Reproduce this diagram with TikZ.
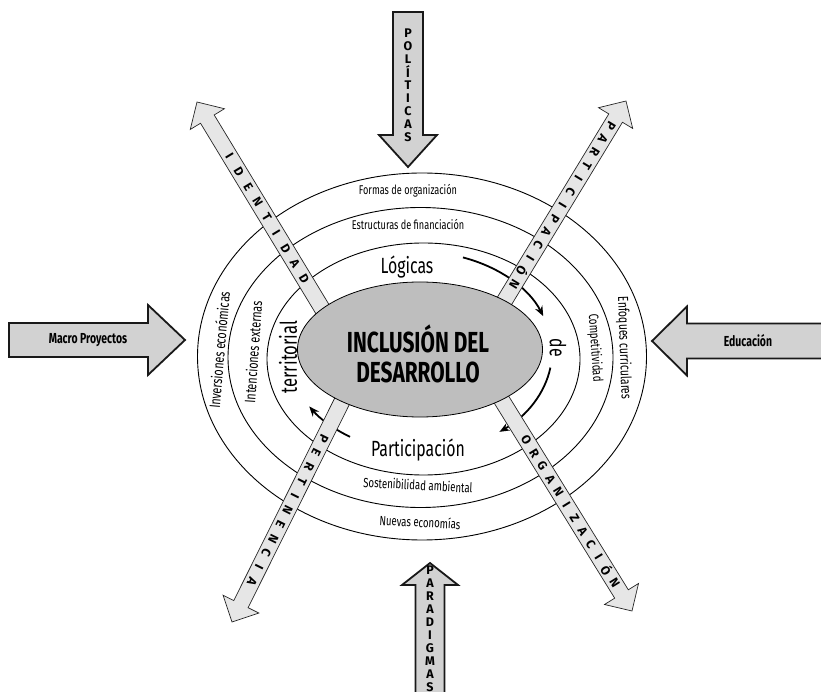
\documentclass[tikz,border=0pt]{standalone}
\usepackage{fontspec}
\setmainfont{Fira Sans}[FakeStretch=0.72]
\newfontfamily\bandfont{Fira Sans}
\usepackage{tikz}
\usetikzlibrary{arrows.meta, positioning, calc}

\definecolor{colCore}{RGB}{190,190,190}
\definecolor{colBand}{RGB}{230,230,230}
\definecolor{colBig}{RGB}{210,210,210}

\newcommand{\tsize}[1]{\fontsize{#1}{#1}\selectfont}

\begin{document}
\begin{tikzpicture}[x=1pt, y=1pt,
    every node/.style={inner sep=0pt},
    ring/.style={draw=black, line width=0.9pt},
    band/.style={draw=black!85, fill=colBand, line width=0.7pt, line join=miter},
    bigarrow/.style={draw=black!90, fill=colBig, line width=1.8pt, line join=miter},
    turnarrow/.style={line width=1.8pt, -{Stealth[length=10pt, width=8pt]}},
    bandletter/.style={font=\bandfont\bfseries\tsize{12.5}},
    ringtext/.style={font=\tsize{12.7}},
    bigtext/.style={font=\tsize{22}}]

    \useasboundingbox (0,0) rectangle (821,691);

    % --- Anillos ---
    \draw[ring] (422,334.5) ellipse [x radius=224.5pt, y radius=183.5pt];
    \draw[ring] (420.5,333.5) ellipse [x radius=192.5pt, y radius=150pt];
    \draw[ring] (423.5,332) ellipse [x radius=156.5pt, y radius=116pt];

    % --- Flechas de giro ---
    \begin{scope}[shift={(420,339)}]
        \draw[turnarrow] (71:132pt and 100pt) arc [start angle=71, end angle=21, x radius=132pt, y radius=100pt];
        \draw[turnarrow] (-9:132pt and 100pt) arc [start angle=-9, end angle=-53, x radius=132pt, y radius=100pt];
        \draw[turnarrow] (-122:132pt and 100pt) arc [start angle=-122, end angle=-147, x radius=132pt, y radius=100pt];
    \end{scope}

    % --- Bandas diagonales ---
    \foreach \tx/\ty/\ang/\len in {197/589/121.2/290, 626/590/58.7/290, 232/69/243.5/300, 632/80/-58.3/300} {
        \begin{scope}[shift={(\tx,\ty)}, rotate=\ang]
            \draw[band] (-\len,-8) -- (-20,-8) -- (-20,-20) -- (0,0) -- (-20,20) -- (-20,8) -- (-\len,8) -- cycle;
        \end{scope}
    }
    % Identidad
    \begin{scope}[shift={(197,589)}, rotate=121.2]
        \foreach \ch [count=\i from 0] in {I,D,E,N,T,I,D,A,D}
            \node[bandletter, rotate=-58.8] (idn\i) at (-63-18*\i, 0) {\ch};
    \end{scope}
    % Participacion
    \begin{scope}[shift={(626,590)}, rotate=58.7]
        \foreach \ch [count=\i from 0] in {P,A,R,T,I,C,I,P,A,C,I,Ó,N}
            \node[bandletter, rotate=-121.3] (ptc\i) at (-29-15.5*\i, 0) {\ch};
    \end{scope}
    % Pertinencia
    \begin{scope}[shift={(232,69)}, rotate=243.5]
        \foreach \ch [count=\i from 0] in {P,E,R,T,I,N,E,N,C,I,A}
            \node[bandletter, rotate=243.5] (per\i) at (-205+16*\i, 0) {\ch};
    \end{scope}
    % Organizacion
    \begin{scope}[shift={(632,80)}, rotate=-58.3]
        \foreach \ch [count=\i from 0] in {O,R,G,A,N,I,Z,A,C,I,Ó,N}
            \node[bandletter, rotate=-58.3] (org\i) at (-201+15.3*\i, 0) {\ch};
    \end{scope}

    % --- Nucleo ---
    \draw[draw=black, line width=0.8pt, fill=colCore] (420,341.5) ellipse [x radius=122.5pt, y radius=67.5pt];
    \node[font=\bfseries\fontsize{29}{30}\selectfont, align=center] (core) at (418,337) {INCLUSIÓN DEL\\DESARROLLO};

    % --- Textos de los anillos ---
    \node[ringtext, anchor=base] (formas) at (408,496) {Formas de organización};
    \node[ringtext, anchor=base] (estruct) at (408,461) {Estructuras de financiación};
    \node[bigtext, anchor=base] (logicas) at (407,417) {Lógicas};
    \node[bigtext, anchor=base] (partic) at (418,234) {Participación};
    \node[font=\tsize{13.3}, rotate=-3] (sosten) at (418,206) {Sostenibilidad ambiental};
    \node[font=\tsize{13.3}, rotate=-3] (nuevas) at (420,169) {Nuevas economías};
    \node[font=\tsize{15}, rotate=85] (invers) at (219,341) {Inversiones económicas};
    \node[font=\tsize{15}, rotate=86] (intenc) at (253,339) {Intenciones externas};
    \node[font=\tsize{23}, rotate=90] (territ) at (288,334) {territorial};
    \node[font=\tsize{22}, rotate=-90] (de) at (558,343) {de};
    \node[font=\tsize{13.6}, rotate=-86] (compet) at (595,343) {Competitividad};
    \node[font=\tsize{14.5}, rotate=-88] (enfoq) at (624,343) {Enfoques curriculares};

    % --- Flechas externas ---
    % Politicas
    \draw[bigarrow] (393,679) -- (423,679) -- (423,556) -- (437,556) -- (408,524) -- (379,556) -- (393,556) -- cycle;
    \foreach \ch [count=\i from 0] in {P,O,L,Í,T,I,C,A,S}
        \node[bandletter] (pol\i) at (408, 658-13*\i) {\ch};
    % Paradigmas
    \draw[bigarrow] (415.5,-5) -- (415.5,106) -- (402,106) -- (430,128) -- (458,106) -- (444.5,106) -- (444.5,-5) -- cycle;
    \foreach \ch [count=\i from 0] in {P,A,R,A,D,I,G,M,A,S}
        \node[bandletter] (pdg\i) at (430, 121-13*\i) {\ch};
    % Macro proyectos
    \draw[bigarrow] (9,334) -- (148,334) -- (148,316) -- (185,351) -- (148,386) -- (148,368) -- (9,368) -- cycle;
    \node[font=\bfseries\tsize{14.5}] (macro) at (88,351) {Macro Proyectos};
    % Educacion
    \draw[bigarrow] (830,332.5) -- (687,332.5) -- (687,315.5) -- (652,350) -- (687,384.5) -- (687,367.5) -- (830,367.5) -- cycle;
    \node[font=\bfseries\tsize{14.5}] (educ) at (748,350) {Educación};

\end{tikzpicture}
\end{document}
